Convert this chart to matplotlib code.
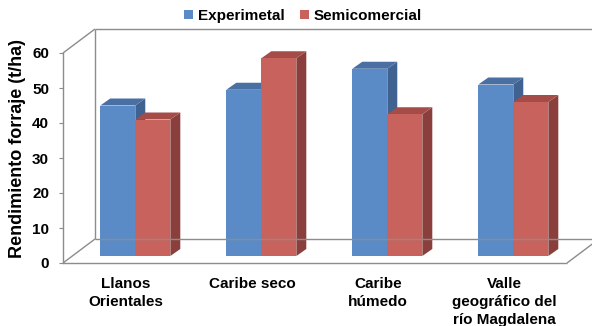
import matplotlib.pyplot as plt
from matplotlib.patches import Polygon, Patch

# rendimiento de forraje por region (t/ha)
regiones = ["Llanos\nOrientales", "Caribe seco", "Caribe\nhúmedo",
            "Valle\ngeográfico del\nrío Magdalena"]
experimetal = [43, 47.5, 53.5, 49]
semicomercial = [39, 56.5, 40.5, 44]
series = ["Experimetal", "Semicomercial"]

plt.rcParams['font.family'] = ['Liberation Sans', 'DejaVu Sans']
plt.rcParams['font.weight'] = 'bold'

# colores: frente, tapa, lado
colores = {
    "Experimetal": ("#5b8bc6", "#4a6fa3", "#3f6290"),
    "Semicomercial": ("#c8625c", "#a54c48", "#8a3f3c"),
}

fig = plt.figure(figsize=(5.92, 3.26), dpi=100)
ax = fig.add_axes([63 / 592, 63 / 326, 504 / 592, 210 / 326])
ax.set_xlim(-0.5, 3.5)
ax.set_ylim(0, 60)

# profundidad de la caja 3D (unidades de datos)
DX, DY = 0.254, 6.86
# posicion de las barras dentro de la caja
OX, OY = 0.074, 2.0
BX, BY = 0.079, 2.0
W = 0.278

gris = "#8c8c8c"
lw = 1.0
caja = [
    ([-0.5, -0.5 + DX], [60, 60 + DY]),
    ([-0.5 + DX, -0.5 + DX], [DY, 60 + DY]),
    ([-0.5 + DX, 3.8], [60 + DY, 60 + DY]),
    ([-0.5, -0.5 + DX], [0, DY]),
    ([-0.5 + DX, 3.8], [DY, DY]),
    ([-0.5, 3.5], [0, 0]),
    ([3.5, 3.5 + DX], [0, DY]),
]
for xs, ys in caja:
    ax.plot(xs, ys, color=gris, lw=lw, clip_on=False, solid_capstyle='butt')


def barra(x0, h, nombre):
    frente, tapa, lado = colores[nombre]
    y0 = OY
    y1 = OY + h
    x1 = x0 + W
    ax.add_patch(Polygon([(x1, y0), (x1 + BX, y0 + BY), (x1 + BX, y1 + BY), (x1, y1)],
                         closed=True, facecolor=lado, edgecolor='none', clip_on=False))
    ax.add_patch(Polygon([(x0, y1), (x1, y1), (x1 + BX, y1 + BY), (x0 + BX, y1 + BY)],
                         closed=True, facecolor=tapa, edgecolor='none', clip_on=False))
    ax.add_patch(Polygon([(x0, y0), (x1, y0), (x1, y1), (x0, y1)],
                         closed=True, facecolor=frente, edgecolor='none', clip_on=False))


for i in range(len(regiones)):
    c = i + OX
    barra(c - W, experimetal[i], "Experimetal")
    barra(c, semicomercial[i], "Semicomercial")

for s in ["top", "right", "bottom"]:
    ax.spines[s].set_visible(False)
ax.spines["left"].set_color(gris)
ax.spines["left"].set_linewidth(lw)

ax.set_yticks(range(0, 61, 10))
ax.tick_params(axis='y', length=3, pad=7, color=gris, labelsize=11)
ax.set_xticks(range(len(regiones)))
ax.set_xticklabels(regiones, fontsize=11, fontweight='bold', linespacing=1.35)
ax.tick_params(axis='x', length=0, pad=10)
for t in ax.get_yticklabels():
    t.set_fontweight('bold')

fig.text(0.030, (326 - 148) / 326, "Rendimiento forraje (t/ha)", rotation=90,
         ha='center', va='center', fontsize=13, fontweight='bold')

handles = [Patch(facecolor=colores[s][0], edgecolor='none') for s in series]
fig.legend(handles, series, loc='center', bbox_to_anchor=(0.512, 0.951), ncol=2,
           frameon=False, fontsize=11, handlelength=0.6, handleheight=0.6,
           handletextpad=0.3, columnspacing=1.0, borderaxespad=0)

fig.savefig("out.png", dpi=100)
